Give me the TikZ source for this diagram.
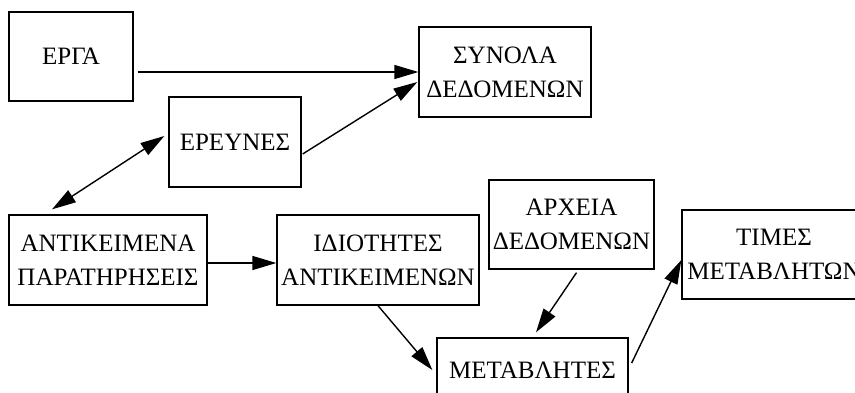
\documentclass[tikz,border=0pt]{standalone}
\usepackage{fontspec}
\setmainfont{Liberation Serif}
\usetikzlibrary{arrows.meta}
\tikzset{
  >={Triangle[length=24pt,width=14pt]},
  box/.style={draw, line width=1.3pt, inner sep=0pt, align=center,
    font=\fontsize{25}{34}\selectfont},
  arr/.style={line width=1.4pt, ->},
  darr/.style={line width=1.4pt, <->},
}
\begin{document}
\begin{tikzpicture}[x=1pt,y=-1pt]
\useasboundingbox (0,0) rectangle (855,393);
\fill[white] (0,0) rectangle (855,393);
\clip (0,0) rectangle (855,393);
\node[box, minimum width=124pt, minimum height=89pt] (erga) at (71,56.5) {ΕΡΓΑ};
\node[box, minimum width=132pt, minimum height=90pt] (ereunes) at (235,142) {ΕΡΕΥΝΕΣ};
\node[box, minimum width=172pt, minimum height=90pt] (synola) at (505,72) {ΣΥΝΟΛΑ\\ΔΕΔΟΜΕΝΩΝ};
\node[box, minimum width=198pt, minimum height=90pt] (antik) at (108,260) {ΑΝΤΙΚΕΙΜΕΝΑ\\ΠΑΡΑΤΗΡΗΣΕΙΣ};
\node[box, minimum width=202pt, minimum height=90pt] (idiot) at (378,260) {ΙΔΙΟΤΗΤΕΣ\\ΑΝΤΙΚΕΙΜΕΝΩΝ};
\node[box, minimum width=165pt, minimum height=89pt] (archeia) at (571.5,224.5) {ΑΡΧΕΙΑ\\ΔΕΔΟΜΕΝΩΝ};
\node[box, minimum width=184pt, minimum height=89pt] (times) at (774,254.5) {ΤΙΜΕΣ\\ΜΕΤΑΒΛΗΤΩΝ};
\node[box, minimum width=191pt, minimum height=64pt] (metab) at (532.5,370) {ΜΕΤΑΒΛΗΤΕΣ};

\draw[arr, shorten <=4pt] (synola.west -| erga.east) -- (synola.west);
\draw[arr] ([xshift=1pt,yshift=-12pt]ereunes.east) -- ([xshift=-1pt,yshift=-10pt]synola.west);
\draw[darr] ([xshift=-56pt,yshift=5pt]antik.north) -- ([xshift=-4pt,yshift=6pt]ereunes.west);
\draw[arr] ([yshift=-3pt]antik.east) -- ([yshift=-3pt]idiot.west);
\draw[arr] (idiot.south) -- ([xshift=-4pt]metab.west);
\draw[arr] ([xshift=5pt,yshift=-3pt]archeia.south) -- ([xshift=3.5pt,yshift=5pt]metab.north);
\draw[arr] ([xshift=3pt,yshift=7pt]metab.east) -- ([yshift=-5.5pt]times.west);
\end{tikzpicture}
\end{document}
